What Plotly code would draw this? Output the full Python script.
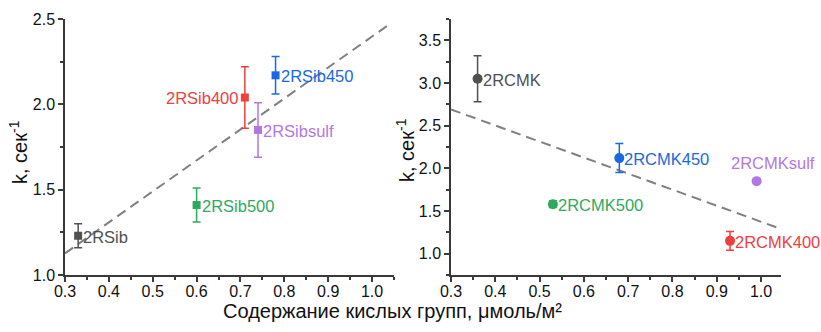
import plotly.graph_objects as go

# --- Left panel: 2RSib series (squares) ---
sib_names = ["2RSib", "2RSib500", "2RSib400", "2RSibsulf", "2RSib450"]
sib_x = [0.33, 0.60, 0.71, 0.74, 0.78]
sib_k = [1.23, 1.41, 2.04, 1.85, 2.17]
sib_err = [0.07, 0.10, 0.18, 0.16, 0.11]
sib_colors = ["#505050", "#2eaa5e", "#f03e3e", "#b377e3", "#1a68e0"]
sib_label_side = ["right", "right", "left", "right", "right"]
sib_trend_x = [0.30, 1.04]
sib_trend_k = [1.127, 2.47]

# --- Right panel: 2RCMK series (circles) ---
cmk_names = ["2RCMK", "2RCMK500", "2RCMK450", "2RCMK400", "2RCMKsulf"]
cmk_x = [0.36, 0.53, 0.68, 0.93, 0.99]
cmk_k = [3.05, 1.58, 2.12, 1.15, 1.85]
cmk_err = [0.27, 0.04, 0.17, 0.11, 0.0]
cmk_colors = ["#505050", "#2eaa5e", "#1a68e0", "#f03e3e", "#b377e3"]
cmk_label_side = ["right", "right", "right", "right", "top"]
cmk_trend_x = [0.30, 1.05]
cmk_trend_k = [2.69, 1.28]

x_ticks = [0.3, 0.4, 0.5, 0.6, 0.7, 0.8, 0.9, 1.0]
sib_y_ticks = [1.0, 1.5, 2.0, 2.5]
cmk_y_ticks = [1.0, 1.5, 2.0, 2.5, 3.0, 3.5]

FONT = "Liberation Sans, Arial, sans-serif"
AXIS_COLOR = "#3a3a3a"
W, H = 821, 332

fig = go.Figure()

# trend lines
fig.add_trace(go.Scatter(x=sib_trend_x, y=sib_trend_k, mode="lines",
                         line=dict(color="#808080", width=2, dash="10px,6px"),
                         xaxis="x", yaxis="y", hoverinfo="skip"))
fig.add_trace(go.Scatter(x=cmk_trend_x, y=cmk_trend_k, mode="lines",
                         line=dict(color="#808080", width=2, dash="10px,6px"),
                         xaxis="x2", yaxis="y2", hoverinfo="skip"))

annotations = []


def add_points(names, xs, ks, errs, colors, sides, symbol, size, xa, ya):
    for n, x, k, e, c, side in zip(names, xs, ks, errs, colors, sides):
        err = dict(type="data", array=[e], color=c, thickness=1.5, width=4,
                   visible=e > 0)
        fig.add_trace(go.Scatter(
            x=[x], y=[k], mode="markers", name=n,
            marker=dict(symbol=symbol, size=size, color=c),
            error_y=err, xaxis=xa, yaxis=ya))
        if side == "right":
            ann = dict(xanchor="left", yanchor="middle", xshift=3, yshift=-1)
        elif side == "left":
            ann = dict(xanchor="right", yanchor="middle", xshift=-5, yshift=0)
        else:
            ann = dict(xanchor="center", yanchor="bottom", xshift=16, yshift=7)
        annotations.append(dict(
            x=x, y=k, xref=xa, yref=ya, text=n, showarrow=False,
            font=dict(family=FONT, size=16.5, color=c), **ann))


add_points(sib_names, sib_x, sib_k, sib_err, sib_colors, sib_label_side,
           "square", 8, "x", "y")
add_points(cmk_names, cmk_x, cmk_k, cmk_err, cmk_colors, cmk_label_side,
           "circle", 10, "x2", "y2")

# axis titles
ytitle = "k, сек<sup>-1</sup>"
title_font = dict(family=FONT, size=20, color="#111")
annotations.append(dict(x=19 / W, y=1 - 152 / H, xref="paper", yref="paper",
                        xanchor="center", yanchor="middle",
                        text=ytitle, textangle=-90, showarrow=False,
                        font=title_font))
annotations.append(dict(x=405 / W, y=1 - 150 / H, xref="paper", yref="paper",
                        xanchor="center", yanchor="middle",
                        text=ytitle, textangle=-90, showarrow=False,
                        font=title_font))
annotations.append(dict(x=392 / W, y=1 - 311 / H, xref="paper", yref="paper",
                        xanchor="center", yanchor="middle",
                        text="Содержание кислых групп, μмоль/м²",
                        showarrow=False, font=title_font))

common_axis = dict(
    showline=True, linecolor=AXIS_COLOR, linewidth=1.5, mirror=False,
    ticks="outside", ticklen=5, tickwidth=1.5, tickcolor=AXIS_COLOR,
    showgrid=False, zeroline=False, automargin=False,
    tickfont=dict(family=FONT, size=16, color="#111"),
    tickformat=".1f",
)

xminor = dict(dtick=0.05, tick0=0.3, ticks="outside", ticklen=3,
              tickwidth=1.5, tickcolor=AXIS_COLOR)

ydom = [1 - 275 / H, 1 - 19 / H]
fig.update_layout(
    width=W, height=H, margin=dict(l=0, r=0, t=0, b=0),
    paper_bgcolor="white", plot_bgcolor="white", showlegend=False,
    annotations=annotations,
    xaxis=dict(domain=[65 / W, 394 / W], range=[0.3, 1.05], anchor="y",
               tickvals=x_ticks, minor=xminor, ticklabelstandoff=-4,
               **common_axis),
    yaxis=dict(domain=ydom, range=[1.0, 2.5], anchor="x", tickvals=sib_y_ticks,
               minor=dict(dtick=0.25, tick0=1.0, ticks="outside", ticklen=3,
                          tickwidth=1.5, tickcolor=AXIS_COLOR),
               **common_axis),
    xaxis2=dict(domain=[451 / W, 781 / W], range=[0.3, 1.045], anchor="y2",
                tickvals=x_ticks, minor=xminor, ticklabelstandoff=-4,
                **common_axis),
    yaxis2=dict(domain=ydom, range=[0.75, 3.75], anchor="x2",
                tickvals=cmk_y_ticks,
                minor=dict(dtick=0.25, tick0=0.75, ticks="outside", ticklen=3,
                           tickwidth=1.5, tickcolor=AXIS_COLOR),
                **common_axis),
)

fig.write_html("out.html")
